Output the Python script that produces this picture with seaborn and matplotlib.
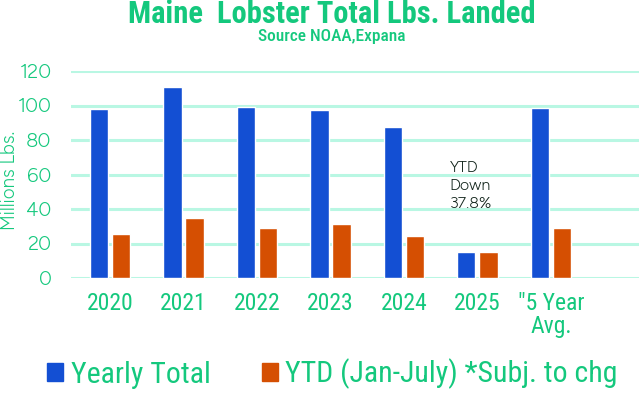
import matplotlib
matplotlib.use("Agg")
import matplotlib.pyplot as plt
import seaborn as sns
import pandas as pd
from matplotlib.patches import Patch

categories = ["2020", "2021", "2022", "2023", "2024", "2025", "\"5 Year\nAvg."]
yearly_total = [98.0, 110.7, 99.0, 97.4, 87.5, 15.1, 98.5]
ytd_values = [25.7, 34.8, 29.0, 31.3, 24.5, 15.1, 29.0]
series_names = ["Yearly Total", "YTD (Jan-July) *Subj. to chg"]
y_ticks = [0, 20, 40, 60, 80, 100, 120]

GREEN = "#14C87D"
BLUE = "#134FD3"
ORANGE = "#D54F02"
GRID = "#B9F7E3"
COND = ["Roboto Condensed", "DejaVu Sans"]
ROUND = ["Figtree", "DejaVu Sans"]

df = pd.DataFrame({
    "cat": categories * 2,
    "val": yearly_total + ytd_values,
    "series": [series_names[0]] * len(categories) + [series_names[1]] * len(categories),
})

sns.set_style("white")
fig = plt.figure(figsize=(6.39, 3.94), dpi=100)
ax = fig.add_axes([71/639, 1-278/394, 1-71/639, (278-71)/394])

sns.barplot(data=df, x="cat", y="val", hue="series", order=categories,
            hue_order=series_names, palette=[BLUE, ORANGE],
            width=0.6, gap=0.17, saturation=1, ax=ax, legend=False)

ax.set_ylim(0, 120)
ax.set_xlim(-0.53, 7.2)
ax.set_yticks(y_ticks)
ax.yaxis.grid(True, color=GRID, linewidth=2.2)
ax.set_axisbelow(True)
for s in ax.spines.values():
    s.set_visible(False)
ax.tick_params(length=0)
ax.tick_params(axis="y", pad=14, labelsize=14.5, labelcolor=GREEN)
ax.tick_params(axis="x", pad=10, labelsize=17, labelcolor=GREEN)
for t in ax.get_yticklabels():
    t.set_family(ROUND)
for t in ax.get_xticklabels():
    t.set_family(COND)
    t.set_linespacing(1.0)
ax.set_xlabel("")
ax.set_ylabel("")
fig.text(10/639, 1-180/394, "Millions Lbs.", rotation=90, ha="center", va="center",
         color=GREEN, fontsize=13.5, fontweight="medium", family=ROUND)

# annotation placed in data coordinates next to the 2025 group
ax.text(4.62, 53.5, "YTD\nDown\n37.8%", fontsize=11.5, color="#14261D", family=ROUND,
        va="center", ha="left", linespacing=1.38)

fig.text(332/639, 1-14/394, "Maine  Lobster Total Lbs. Landed", ha="center", va="center",
         fontsize=22, fontweight="bold", color=GREEN, family=COND)
fig.text(332/639, 1-37/394, "Source NOAA,Expana", ha="center", va="center",
         fontsize=12.5, fontweight="medium", color=GREEN, family=COND)

handles = [Patch(color=BLUE), Patch(color=ORANGE)]
leg = fig.legend(handles, series_names, loc="center left", bbox_to_anchor=(47/639, 1-374/394),
                 ncol=2, frameon=False, handlelength=0.55, handleheight=0.55,
                 handletextpad=0.25, columnspacing=1.7, borderaxespad=0, borderpad=0,
                 prop={"family": COND, "size": 21.5})
for t in leg.get_texts():
    t.set_color(GREEN)

fig.savefig("out.png", dpi=100)
